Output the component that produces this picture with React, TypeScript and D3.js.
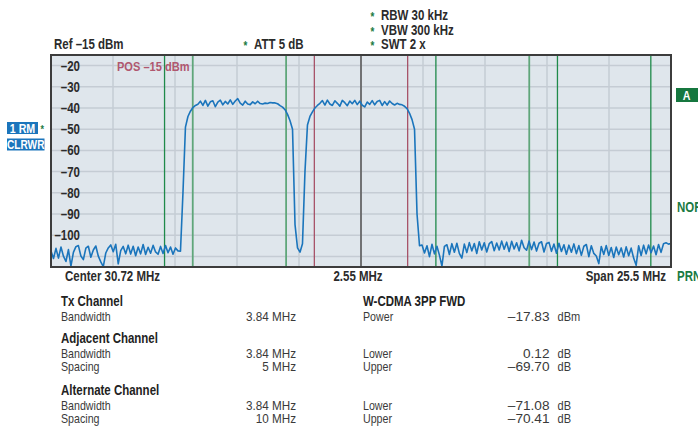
import React from "react";
import * as d3 from "d3";

// ---- data ----
const CENTER_MHZ = 30.72;
const SPAN_MHZ = 25.5;
const REF_DBM = -15;
const Y_MIN_DBM = -115;
const yTickValues = [-20, -30, -40, -50, -60, -70, -80, -90, -100];
const yGridValues = [-20, -30, -40, -50, -60, -70, -80, -90, -100, -110];
const gridDivisions = 10;

// channel edges relative to centre (MHz)
const adjacentEdgesMHz = [-8.08, -6.92, -3.08, 3.08, 6.92, 8.08, 11.92];
const lightEdgesMHz = [-6.92, -3.08, 6.92];
const txEdgesMHz = [-1.92, 1.92];

// trace levels (dBm), evenly spaced across the span
const traceLevels = [
  -107.5, -111.0, -106.2, -110.8, -105.6, -109.9, -112.4, -106.8, -114.6, -108.1,
  -105.4, -104.9, -109.8, -111.5, -106.1, -105.2, -110.4, -107.0, -105.1, -109.9,
  -112.6, -114.8, -108.4, -106.0, -104.6, -107.8, -104.3, -113.5, -107.3, -105.3,
  -108.8, -104.7, -108.9, -105.2, -109.7, -105.6, -108.8, -104.4, -109.1, -105.7,
  -108.5, -104.8, -107.9, -109.0, -105.3, -108.6, -104.9, -108.3, -105.6, -109.0,
  -106.0, -107.4,
  -107.5, -80, -49, -44, -41.5, -39.8, -38.8,
  -38.2, -36.8, -38.8, -36.4, -39.1, -37.1, -36.6, -39.4, -37.2, -36.3,
  -38.5, -36.9, -38.1, -36.2, -38.3, -36.7, -35.6, -37.7, -38.6, -36.8,
  -38.1, -38.4, -37.1, -38.0, -36.8, -37.9, -38.1, -37.7, -37.9, -37.4,
  -37.6,
  -37.6, -38.0, -38.9, -39.6, -40.8, -43.0, -46, -50, -95, -106,
  -108, -104, -70, -48, -44, -41.8, -40, -38.8,
  -37.8, -36.5, -38.6, -36.3, -38.1, -38.8, -36.6, -37.8, -39.1, -36.4,
  -37.5, -38.9, -36.7, -38.0, -36.4, -38.4, -36.8, -38.7, -39.5, -37.2,
  -38.3, -36.5, -38.5, -36.9, -36.4, -38.8, -37.0, -38.6, -36.7, -37.9,
  -38.6, -37.8, -38.3, -38.5,
  -39.2, -40.3, -42.5, -45.5, -50, -90, -105,
  -104.6, -108.4, -105.0, -110.1, -104.3, -108.8, -105.2, -109.4, -114.6, -105.3,
  -104.5, -109.1, -104.0, -108.0, -103.8, -108.6, -110.8, -104.2, -108.2, -103.5,
  -107.4, -103.9, -108.6, -103.1, -107.0, -103.6, -107.9, -104.0, -103.0, -107.3,
  -103.7, -107.0, -102.8, -106.6, -103.3, -107.7, -102.9, -106.5, -103.6, -107.4,
  -102.4, -105.9, -107.1, -102.8, -106.8, -103.2, -107.5, -103.8, -103.1, -107.9,
  -103.9, -103.4, -107.6, -104.2, -108.5, -103.8, -107.7, -104.5, -109.0, -104.7,
  -108.0, -104.1, -108.7, -104.9, -109.5, -105.2, -104.4, -110.1, -105.0, -108.6,
  -109.8, -113.4, -105.3, -109.1, -104.9, -109.6, -105.8, -110.5, -105.6, -109.2,
  -106.0, -110.3, -105.5, -109.7, -106.1, -110.8, -114.2, -105.0, -109.6, -104.7,
  -108.8, -104.6, -108.3, -105.1, -109.2, -104.4, -108.1, -104.0, -103.6, -104.2, -103.9,
];

const headerLeft = "Ref  \u201315 dBm";
const headerMid = "ATT  5 dB";
const headerRight = ["RBW 30 kHz", "VBW 300 kHz", "SWT 2 x"];
const axisLabels = ["Center  30.72 MHz", "2.55 MHz", "Span 25.5 MHz"];

const txRows = [["Bandwidth", "3.84 MHz"]];
const adjRows = [["Bandwidth", "3.84 MHz"], ["Spacing", "5 MHz"]];
const altRows = [["Bandwidth", "3.84 MHz"], ["Spacing", "10 MHz"]];
const powerRows = [["Power", "\u201317.83", "dBm"]];
const adjResults = [["Lower", "0.12", "dB"], ["Upper", "\u201369.70", "dB"]];
const altResults = [["Lower", "\u201371.08", "dB"], ["Upper", "\u201370.41", "dB"]];

// ---- layout ----
const W = 698, H = 428;
const L = 51, R = 671, T = 55, B = 267;
const FONT = "'Liberation Sans', Arial, sans-serif";
const GREEN = "#1b7a43";
const BLUE = "#1b75bc";
const SX = 0.82;

function Txt(props: any) {
  const { x, y, sx = SX, anchor = "start", children, ...rest } = props;
  return (
    <text transform={`translate(${x},${y}) scale(${sx},1)`} textAnchor={anchor} {...rest}>
      {children}
    </text>
  );
}

export default function App() {
  const f0 = CENTER_MHZ - SPAN_MHZ / 2;
  const f1 = CENTER_MHZ + SPAN_MHZ / 2;
  const x = d3.scaleLinear().domain([f0, f1]).range([L, R]);
  const y = d3.scaleLinear().domain([Y_MIN_DBM, REF_DBM]).range([B, T]);
  const step = SPAN_MHZ / (traceLevels.length - 1);
  const line = d3
    .line<number>()
    .x((_, i) => x(f0 + i * step))
    .y((d) => y(d));
  const vGrid = d3.range(1, gridDivisions).map((k) => f0 + (k * SPAN_MHZ) / gridDivisions);

  const txtDark = "#2b2b2b";
  const tableColor = "#3a3a3a";

  const rowsBlock = (rows: string[][], y0: number, key: string) =>
    rows.map((r, i) => (
      <g key={key + i}>
        <Txt x={61} y={y0 + i * 13} fontSize={13} fill={tableColor}>{r[0]}</Txt>
        <Txt x={296} y={y0 + i * 13} fontSize={13} sx={0.9} fill={tableColor} anchor="end">{r[1]}</Txt>
      </g>
    ));
  const resultBlock = (rows: string[][], y0: number, key: string) =>
    rows.map((r, i) => (
      <g key={key + i}>
        <Txt x={363} y={y0 + i * 13} fontSize={13} fill={tableColor}>{r[0]}</Txt>
        <Txt x={549.5} y={y0 + i * 13} fontSize={13} sx={1.05} fill={tableColor} anchor="end">{r[1]}</Txt>
        <Txt x={557.5} y={y0 + i * 13} fontSize={13} sx={0.85} fill={tableColor}>{r[2]}</Txt>
      </g>
    ));

  return (
    <svg
      width={W}
      height={H}
      style={{ position: "absolute", left: 0, top: 0, background: "#fff" }}
      fontFamily={FONT}
    >
      <defs>
        <clipPath id="plotclip">
          <rect x={L} y={T} width={R - L} height={B - T} />
        </clipPath>
      </defs>

      {/* header */}
      <Txt x={54} y={49} fontSize={14} fontWeight="bold" fill={txtDark}>{headerLeft}</Txt>
      <Txt x={243.5} y={50} fontSize={12} fontWeight="bold" fill={GREEN}>*</Txt>
      <Txt x={254} y={49} fontSize={14} fontWeight="bold" fill={txtDark}>{headerMid}</Txt>
      {headerRight.map((t, i) => (
        <g key={t}>
          <Txt x={370.5} y={21 + i * 14.6} fontSize={12} fontWeight="bold" fill={GREEN}>*</Txt>
          <Txt x={381} y={20 + i * 14.6} fontSize={14} fontWeight="bold" fill={txtDark}>{t}</Txt>
        </g>
      ))}

      {/* plot area */}
      <rect x={L} y={T} width={R - L} height={B - T} fill="#dfe6ec" />
      {vGrid.map((f) => (
        <line key={"v" + f} x1={x(f)} x2={x(f)} y1={T} y2={B} stroke="#c5ccd4" strokeWidth={1.5} />
      ))}
      {yGridValues.map((v) => (
        <line key={"h" + v} x1={L} x2={R} y1={y(v)} y2={y(v)} stroke="#c5ccd4" strokeWidth={1.5} />
      ))}
      <line x1={x(CENTER_MHZ)} x2={x(CENTER_MHZ)} y1={T} y2={B} stroke="#5a5a5a" strokeWidth={1.6} />
      {adjacentEdgesMHz.map((o) => {
        const light = lightEdgesMHz.includes(o);
        return (
          <line key={"g" + o} x1={x(CENTER_MHZ + o)} x2={x(CENTER_MHZ + o)} y1={T} y2={B}
            stroke={light ? "#5fa67a" : "#1f8a4a"} strokeWidth={light ? 1.8 : 1.3} />
        );
      })}
      {txEdgesMHz.map((o) => (
        <line key={"r" + o} x1={x(CENTER_MHZ + o)} x2={x(CENTER_MHZ + o)} y1={T} y2={B}
          stroke="#a2475e" strokeWidth={1.2} />
      ))}

      {/* y labels */}
      {yTickValues.map((v) => (
        <Txt key={"yl" + v} x={80} y={y(v) + 5} fontSize={14} fontWeight="bold" fill={txtDark} anchor="end">
          {"\u2013" + Math.abs(v)}
        </Txt>
      ))}

      <Txt x={117} y={70.5} fontSize={13.5} fontWeight="bold" fill="#b0576f">
        {"POS  \u2013" + Math.abs(REF_DBM) + " dBm"}
      </Txt>

      {/* trace */}
      <path d={line(traceLevels) || ""} fill="none" stroke={BLUE} strokeWidth={1.6}
        strokeLinejoin="round" clipPath="url(#plotclip)" />

      {/* frame */}
      <rect x={L} y={T} width={R - L} height={B - T} fill="none" stroke="#3c3c3c" strokeWidth={2} />

      {/* axis labels */}
      <Txt x={65} y={281} fontSize={14} fontWeight="bold" fill={txtDark}>{axisLabels[0]}</Txt>
      <Txt x={358} y={281} fontSize={14} fontWeight="bold" fill={txtDark} anchor="middle">{axisLabels[1]}</Txt>
      <Txt x={666} y={281} fontSize={14} fontWeight="bold" fill={txtDark} anchor="end">{axisLabels[2]}</Txt>

      {/* right side */}
      <rect x={676} y={88} width={22} height={14} fill="#16773f" />
      <Txt x={686.5} y={100} fontSize={13} fontWeight="bold" fill="#fff" anchor="middle">A</Txt>
      <Txt x={677} y={212} fontSize={14} fontWeight="bold" fill={GREEN}>NOF</Txt>
      <Txt x={677} y={281} fontSize={14} fontWeight="bold" fill={GREEN}>PRN</Txt>

      {/* left side */}
      <rect x={7} y={122} width={31} height={12} fill={BLUE} />
      <Txt x={22.5} y={132.5} fontSize={13} fontWeight="bold" fill="#fff" anchor="middle">1 RM</Txt>
      <Txt x={40.5} y={133} fontSize={11} fontWeight="bold" fill={GREEN}>*</Txt>
      <rect x={7} y={138.5} width={37.5} height={12} fill={BLUE} />
      <Txt x={25.7} y={149} fontSize={13} sx={0.78} fontWeight="bold" fill="#fff" anchor="middle">CLRWR</Txt>

      {/* table left */}
      <Txt x={61} y={306} fontSize={14} fontWeight="bold" fill="#222">Tx Channel</Txt>
      {rowsBlock(txRows, 321, "tx")}
      <Txt x={61} y={343} fontSize={14} fontWeight="bold" fill="#222">Adjacent Channel</Txt>
      {rowsBlock(adjRows, 358, "adj")}
      <Txt x={61} y={395} fontSize={14} fontWeight="bold" fill="#222">Alternate Channel</Txt>
      {rowsBlock(altRows, 410, "alt")}

      {/* table right */}
      <Txt x={363} y={306} fontSize={14} fontWeight="bold" fill="#222">W-CDMA 3PP FWD</Txt>
      {resultBlock(powerRows, 321, "pw")}
      {resultBlock(adjResults, 358, "ar")}
      {resultBlock(altResults, 410, "alr")}
    </svg>
  );
}
